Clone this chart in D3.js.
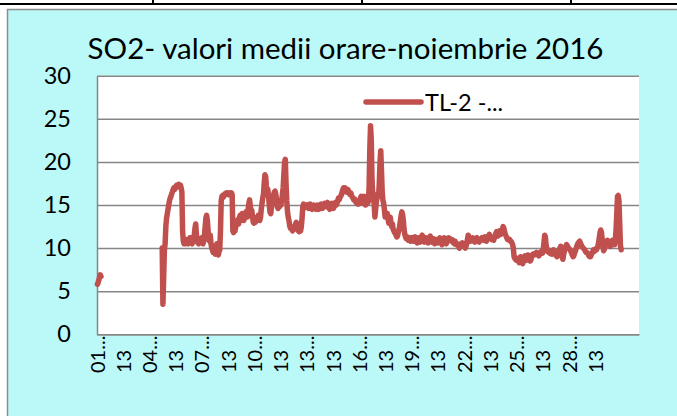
<!DOCTYPE html>
<html>
<head>
<meta charset="utf-8">
<script src="https://cdn.jsdelivr.net/npm/d3@7/dist/d3.min.js"></script>
<style>
  body { margin: 0; background: #fff; }
  text { font-family: Lato, "Open Sans", sans-serif; fill: #000; }
</style>
</head>
<body>
<div id="chart"></div>
<script>
// hourly SO2 values, 1-30 November 2016 (one row per day, 24 hours), null = no data
const so2Hourly = [
  /* 01 */ 5.8, 6.0, 6.3, 6.6, 6.9, 6.7, null, null, null, null, null, null, null, null, null, null, null, null, null, null, null, null, null, null,
  /* 02 */ null, null, null, null, null, null, null, null, null, null, null, null, null, null, null, null, null, null, null, null, null, null, null, null,
  /* 03 */ null, null, null, null, null, null, null, null, null, null, null, null, null, null, null, null, null, null, null, null, null, null, null, null,
  /* 04 */ null, null, null, null, null, null, null, null, null, null, null, null, null, null, null, null, null, 10.0, 3.5, 6.5, 9.8, 10.5, 12.5, 13.5,
  /* 05 */ 14.0, 14.5, 15.0, 15.5, 15.8, 16.0, 16.3, 16.5, 16.8, 17.0, 16.8, 17.0, 17.2, 17.3, 17.1, 17.3, 17.4, 17.2, 17.3, 17.0, 16.5, 12.0, 10.8, 10.5,
  /* 06 */ 10.8, 10.5, 10.6, 11.0, 10.7, 10.5, 10.9, 11.2, 11.0, 10.6, 10.5, 10.8, 11.2, 11.5, 12.3, 12.8, 11.5, 10.8, 10.6, 10.5, 10.7, 10.9, 11.0, 11.2,
  /* 07 */ 10.6, 10.5, 10.8, 11.5, 12.5, 13.5, 13.8, 13.2, 12.0, 11.0, 10.8, 11.5, 10.5, 10.0, 9.8, 9.5, 10.2, 9.6, 9.3, 9.8, 10.5, 9.4, 9.2, 9.6,
  /* 08 */ 9.8, 12.0, 15.5, 16.0, 16.1, 15.9, 16.2, 16.3, 16.2, 16.4, 16.3, 16.4, 16.2, 16.3, 16.4, 16.3, 16.4, 16.2, 12.0, 11.8, 12.3, 12.0, 12.5, 12.8,
  /* 09 */ 13.0, 13.3, 12.8, 13.5, 13.8, 13.2, 13.5, 14.0, 13.6, 13.2, 13.5, 13.8, 14.2, 14.0, 13.6, 14.5, 15.2, 15.6, 14.8, 14.2, 14.4, 13.6, 13.0, 12.9,
  /* 10 */ 13.2, 13.0, 13.4, 13.6, 13.3, 13.8, 13.5, 13.2, 13.6, 14.5, 15.2, 15.8, 16.2, 17.5, 18.5, 18.3, 17.2, 16.5, 16.8, 16.0, 15.0, 14.2, 14.0, 14.8,
  /* 11 */ 15.2, 15.8, 16.2, 16.5, 16.6, 16.2, 15.5, 14.8, 14.6, 15.0, 14.8, 15.3, 15.0, 15.6, 16.2, 17.0, 18.5, 20.0, 20.3, 17.5, 15.5, 14.2, 13.6, 13.2,
  /* 12 */ 12.6, 12.3, 12.4, 12.2, 12.0, 12.3, 12.5, 12.2, 12.8, 13.0, 12.7, 12.3, 12.0, 11.9, 12.2, 12.0, 12.5, 13.5, 14.8, 15.1, 15.0, 14.7, 14.8, 14.9,
  /* 13 */ 15.0, 14.8, 14.6, 14.9, 15.1, 15.0, 14.7, 14.5, 14.8, 15.0, 14.8, 14.6, 14.5, 14.8, 15.0, 14.7, 14.5, 14.6, 14.9, 15.1, 14.9, 14.6, 14.8, 15.0,
  /* 14 */ 15.2, 15.0, 14.8, 15.1, 15.3, 15.0, 14.7, 14.5, 14.8, 15.0, 15.2, 14.9, 14.6, 14.8, 15.1, 15.3, 15.0, 15.2, 15.5, 15.8, 15.6, 15.9, 16.0, 16.2,
  /* 15 */ 16.5, 16.8, 17.0, 16.8, 17.0, 16.7, 16.5, 16.6, 16.8, 16.5, 16.3, 16.2, 16.4, 16.1, 15.9, 15.8, 15.6, 15.7, 15.5, 15.3, 15.2, 15.4, 15.1, 15.3,
  /* 16 */ 15.5, 15.8, 16.0, 15.6, 15.2, 15.8, 16.0, 15.3, 15.0, 15.6, 15.7, 15.2, 15.4, 17.0, 21.5, 24.2, 22.5, 18.0, 16.2, 16.0, 15.0, 13.6, 14.5, 15.5,
  /* 17 */ 15.8, 16.3, 16.0, 17.5, 20.0, 21.3, 19.0, 16.5, 15.5, 15.2, 14.5, 13.6, 13.8, 14.0, 14.0, 13.4, 12.9, 13.2, 13.6, 13.0, 12.5, 12.8, 12.2, 12.0,
  /* 18 */ 11.8, 11.7, 11.5, 11.3, 11.4, 11.8, 12.1, 12.6, 13.2, 13.8, 14.2, 13.9, 13.2, 12.2, 11.6, 11.3, 11.1, 11.3, 11.1, 10.9, 11.2, 11.0, 10.8, 11.1,
  /* 19 */ 11.2, 11.0, 10.8, 11.1, 11.3, 11.0, 10.8, 10.6, 10.9, 11.2, 11.0, 10.7, 10.9, 11.3, 11.5, 11.2, 10.9, 10.7, 11.0, 11.2, 11.1, 10.8, 10.6, 10.9,
  /* 20 */ 11.2, 11.4, 11.0, 10.7, 10.9, 11.1, 10.8, 10.5, 10.7, 11.0, 10.8, 10.6, 10.8, 11.0, 11.2, 10.9, 10.6, 10.4, 10.7, 11.0, 11.2, 11.0, 10.7, 10.5,
  /* 21 */ 10.8, 11.0, 11.2, 11.0, 11.1, 10.9, 10.8, 11.0, 10.7, 10.6, 10.5, 10.8, 10.6, 10.4, 10.5, 10.3, 10.2, 10.0, 10.2, 10.5, 10.3, 10.6, 10.4, 10.5,
  /* 22 */ 10.3, 10.0, 10.2, 10.5, 11.0, 11.5, 11.3, 11.0, 10.8, 10.9, 11.0, 11.2, 11.0, 10.8, 10.7, 10.9, 11.1, 11.2, 11.0, 10.8, 10.7, 10.9, 11.0, 11.1,
  /* 23 */ 11.2, 11.0, 10.9, 11.1, 11.3, 11.0, 10.8, 11.0, 11.2, 11.4, 11.6, 11.3, 11.1, 11.0, 11.2, 11.0, 10.9, 11.2, 11.5, 11.7, 11.9, 11.6, 11.4, 11.8,
  /* 24 */ 12.0, 11.8, 11.6, 11.9, 12.2, 12.5, 12.3, 11.9, 11.6, 11.4, 11.2, 11.0, 11.0, 10.9, 11.0, 10.8, 10.8, 10.6, 10.4, 10.0, 9.0, 8.8, 8.7, 8.6,
  /* 25 */ 8.6, 8.8, 8.5, 8.3, 8.7, 9.0, 8.6, 8.4, 8.2, 8.5, 8.9, 9.1, 8.8, 8.6, 8.9, 9.2, 8.8, 8.7, 8.5, 8.6, 9.0, 9.2, 9.3, 9.2,
  /* 26 */ 9.2, 9.4, 9.3, 9.5, 9.3, 9.2, 9.1, 9.3, 9.4, 9.6, 9.5, 9.4, 9.8, 10.6, 11.5, 11.3, 10.3, 9.8, 9.6, 9.8, 9.5, 9.4, 9.6, 9.5,
  /* 27 */ 9.3, 9.6, 9.8, 9.7, 9.5, 9.3, 9.1, 9.0, 9.2, 9.5, 9.8, 10.0, 10.2, 9.6, 9.0, 8.7, 9.2, 9.6, 9.9, 10.2, 10.4, 10.3, 10.1, 10.0,
  /* 28 */ 9.9, 9.8, 9.6, 9.4, 9.2, 9.0, 9.1, 9.4, 9.6, 9.9, 10.2, 10.4, 10.6, 10.7, 10.8, 10.6, 10.4, 10.2, 10.1, 10.0, 9.9, 9.8, 9.6, 9.5,
  /* 29 */ 9.5, 9.4, 9.2, 9.1, 9.0, 9.0, 9.2, 9.4, 9.6, 9.8, 9.6, 9.7, 9.9, 9.8, 10.0, 10.2, 10.6, 11.2, 11.8, 12.1, 11.8, 11.0, 10.2, 9.7,
  /* 30 */ 9.9, 10.2, 10.5, 10.7, 10.9, 10.8, 10.6, 10.4, 10.2, 10.3, 10.6, 10.9, 10.7, 10.5, 10.4, 11.0, 12.1, 14.0, 16.0, 16.1, 15.5, 13.0, 10.3, 9.8
];

// the sheet reserves 31 days x 24 hours of categories
const categoryCount = 744;
const labelStep = 36;
const xTickLabels = ["01...", "13", "04...", "13", "07...", "13", "10...", "13", "13...", "13",
                     "16...", "13", "19...", "13", "22...", "13", "25...", "13", "28...", "13"];
const yTicks = [0, 5, 10, 15, 20, 25, 30];

const chartTitle = "SO2- valori medii orare-noiembrie 2016";
const seriesName = "TL-2 -...";

const width = 677, height = 416;
const plot = { left: 97, right: 639, top: 75.7, bottom: 334.3 };
const lineColor = "#C0504D";
const gridColor = "#868686";

const svg = d3.select("#chart").append("svg")
    .attr("width", width)
    .attr("height", height);

// table borders above the chart
svg.append("line")
    .attr("x1", 0).attr("x2", width).attr("y1", 4).attr("y2", 4)
    .attr("stroke", "#000").attr("stroke-width", 2);
[153, 362, 571].forEach(function(x) {
    svg.append("line")
        .attr("x1", x).attr("x2", x).attr("y1", 0).attr("y2", 5)
        .attr("stroke", "#000").attr("stroke-width", 2);
});

// chart area
svg.append("rect")
    .attr("x", 7.5).attr("y", 9.5)
    .attr("width", width).attr("height", height)
    .attr("fill", "#BBF9F9")
    .attr("stroke", "#8C8C8C").attr("stroke-width", 1.5);

svg.append("rect")
    .attr("x", plot.left).attr("y", plot.top)
    .attr("width", plot.right - plot.left).attr("height", plot.bottom - plot.top)
    .attr("fill", "#fff");

const x = d3.scaleBand()
    .domain(d3.range(categoryCount))
    .range([plot.left, plot.right]);

const y = d3.scaleLinear()
    .domain([0, 30])
    .range([plot.bottom, plot.top]);

// gridlines
const grid = svg.append("g")
    .attr("transform", "translate(" + plot.left + ",0)")
    .call(d3.axisLeft(y).tickValues(yTicks).tickSize(-(plot.right - plot.left)).tickFormat(""));
grid.select(".domain").remove();
grid.selectAll(".tick line").attr("stroke", gridColor).attr("stroke-width", 1.5);

// y axis
const yAxis = svg.append("g")
    .attr("transform", "translate(" + plot.left + ",0)")
    .call(d3.axisLeft(y).tickValues(yTicks).tickSize(0).tickPadding(26));
yAxis.select(".domain").attr("stroke", gridColor).attr("stroke-width", 1.5);
yAxis.selectAll("text")
    .attr("font-family", "Lato, sans-serif")
    .attr("font-size", 23.5)
    .attr("fill", "#000");

// x axis
const labelIdx = xTickLabels.map(function(d, i) { return i * labelStep; });
const xAxis = svg.append("g")
    .attr("transform", "translate(0," + plot.bottom + ")")
    .call(d3.axisBottom(x).tickValues(labelIdx).tickSize(0)
        .tickFormat(function(d) { return xTickLabels[d / labelStep]; }));
xAxis.select(".domain").attr("stroke", gridColor).attr("stroke-width", 1.5);
xAxis.selectAll("text")
    .attr("font-family", "Lato, sans-serif")
    .attr("font-size", 20)
    .attr("fill", "#000")
    .attr("text-anchor", "start")
    .attr("transform", "rotate(-90)")
    .attr("x", -38.7)
    .attr("y", 0)
    .attr("dy", "0.35em");

// series line
const line = d3.line()
    .defined(function(d) { return d != null; })
    .x(function(d, i) { return x(i) + x.bandwidth() / 2; })
    .y(function(d) { return y(d); });

svg.append("path")
    .datum(so2Hourly)
    .attr("d", line)
    .attr("fill", "none")
    .attr("stroke", lineColor)
    .attr("stroke-width", 5.5)
    .attr("stroke-linejoin", "round")
    .attr("stroke-linecap", "round");

// title
svg.append("text")
    .attr("x", 345.5)
    .attr("y", 59)
    .attr("text-anchor", "middle")
    .attr("font-size", 29.5)
    .text(chartTitle);

// legend
svg.append("line")
    .attr("x1", 366).attr("x2", 421).attr("y1", 102).attr("y2", 102)
    .attr("stroke", lineColor).attr("stroke-width", 5.5)
    .attr("stroke-linecap", "round");
svg.append("text")
    .attr("x", 425)
    .attr("y", 110.5)
    .attr("font-size", 23.5)
    .text(seriesName);
</script>
</body>
</html>
